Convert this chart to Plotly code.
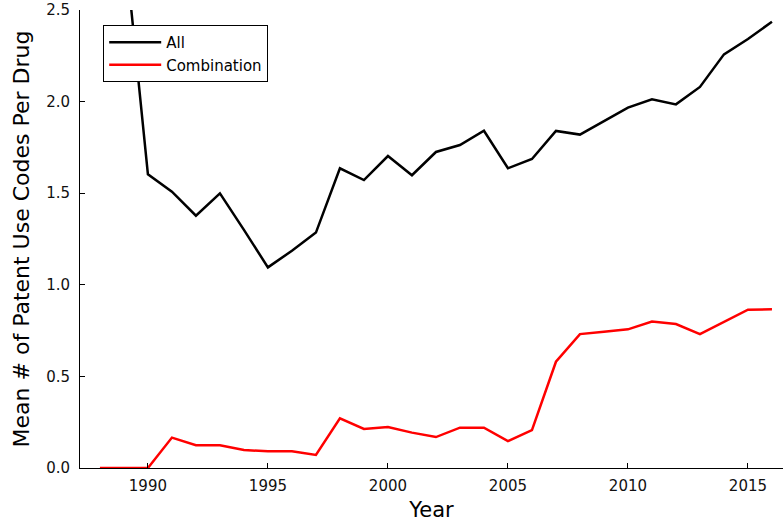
# Mean number of patent use codes per drug, by year
import plotly.graph_objects as go

years = list(range(1988, 2017))

# all drugs (1988/1989 run above the y limit and are clipped)
all_drugs = [3.0, 2.9, 1.603, 1.508, 1.377, 1.499, 1.30, 1.095, 1.186, 1.285,
             1.636, 1.572, 1.703, 1.598, 1.725, 1.763, 1.841, 1.636, 1.687, 1.84,
             1.82, 1.894, 1.967, 2.012, 1.985, 2.08, 2.258, 2.342, 2.436]

# combination drugs
combination = [0.0, 0.0, 0.0, 0.166, 0.124, 0.124, 0.098, 0.091, 0.091, 0.071,
               0.271, 0.213, 0.224, 0.193, 0.169, 0.22, 0.22, 0.147, 0.207, 0.58,
               0.731, 0.744, 0.757, 0.80, 0.786, 0.731, 0.799, 0.864, 0.866]

xticks = [1990, 1995, 2000, 2005, 2010, 2015]
yticks = [0.0, 0.5, 1.0, 1.5, 2.0, 2.5]

fig = go.Figure()
fig.add_trace(go.Scatter(x=years, y=all_drugs, mode="lines", name="All",
                         line=dict(color="black", width=2.5)))
fig.add_trace(go.Scatter(x=years, y=combination, mode="lines", name="Combination",
                         line=dict(color="#ff0000", width=2.5)))

axis_font = dict(family="DejaVu Sans", size=15, color="#111111")

fig.update_layout(
    width=783, height=525,
    plot_bgcolor="white", paper_bgcolor="white",
    margin=dict(l=80, r=0, t=10, b=57),
    font=dict(family="DejaVu Sans", color="black"),
    showlegend=True,
    legend=dict(x=0.033, y=0.967, xanchor="left", yanchor="top",
                bordercolor="black", borderwidth=1, bgcolor="white",
                font=dict(size=15), tracegroupgap=0, itemwidth=52),
)

fig.update_xaxes(
    range=[1987.17, 2016.46], tickvals=xticks, automargin=False,
    ticks="inside", ticklen=5, tickcolor="black", ticklabelstandoff=4,
    showline=True, linecolor="black", linewidth=1,
    showgrid=False, zeroline=False, tickfont=axis_font,
    title=dict(text="Year", font=dict(size=21), standoff=8),
)
fig.update_yaxes(
    range=[0, 2.5], tickvals=yticks, tickformat=".1f", automargin=False,
    ticks="inside", ticklen=5, tickcolor="black", ticklabelstandoff=6,
    showline=True, linecolor="black", linewidth=1,
    showgrid=False, zeroline=False, tickfont=axis_font,
    title=dict(text="Mean # of Patent Use Codes Per Drug", font=dict(size=22), standoff=10),
)

# drop the default page margin so the figure sits at the window's corner
fig.write_html("out.html", config={"displayModeBar": False},
               post_script="document.body.style.margin='0';")
